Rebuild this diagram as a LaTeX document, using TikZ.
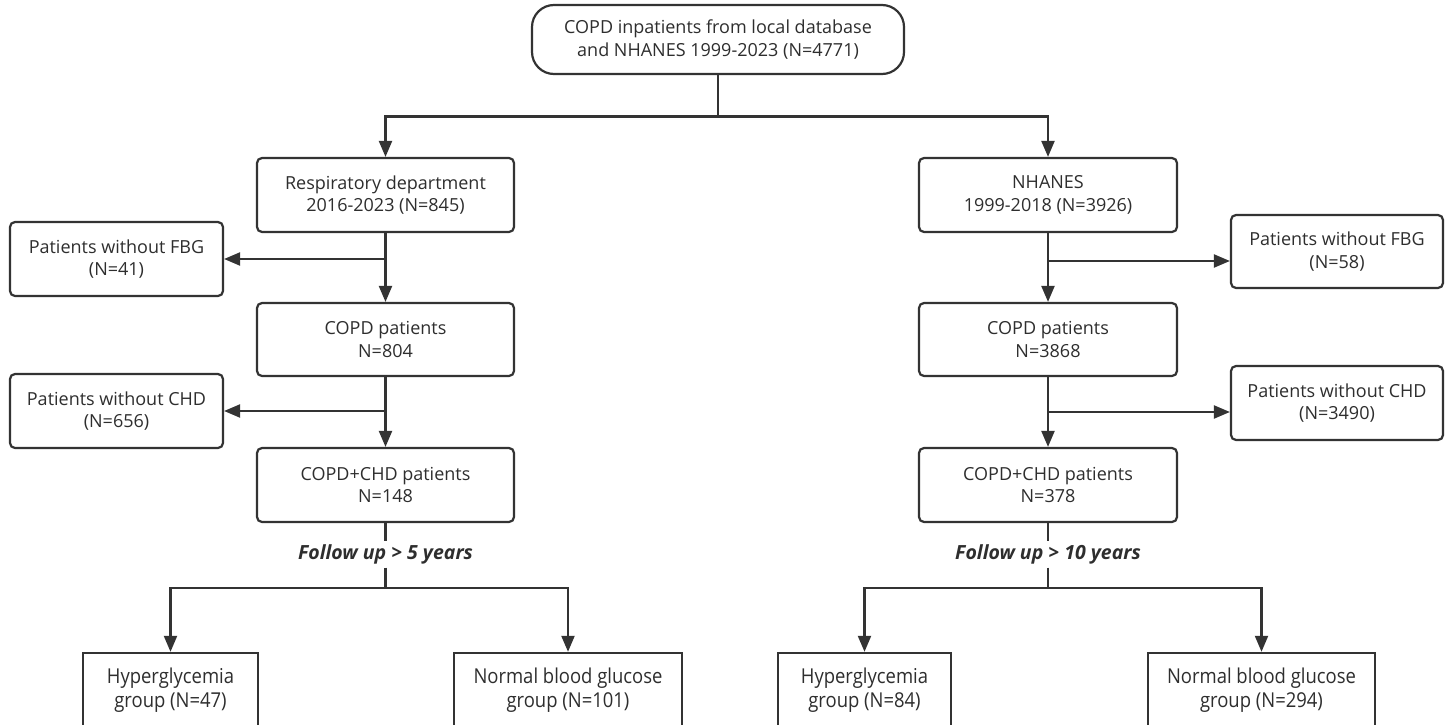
\documentclass[tikz,border=0pt]{standalone}
\usepackage{fontspec}
\setmainfont{Open Sans}
\newfontfamily\condfont[FakeStretch=0.9]{Open Sans}
\usetikzlibrary{arrows.meta}
\definecolor{ln}{HTML}{333333}
\definecolor{tx}{HTML}{2E2E2E}
\begin{document}
\begin{tikzpicture}[x=1pt,y=-1pt,
  box/.style={draw=ln, line width=2.2pt, rounded corners=5pt, minimum height=74pt,
    align=center, font=\fontsize{18}{22.5}\selectfont, text=tx, inner sep=0pt},
  gbox/.style={draw=ln, line width=2.4pt, minimum height=74pt,
    align=center, font=\condfont\fontsize{20.5}{23.5}\selectfont, text=tx, inner sep=0pt},
  conn/.style={draw=ln, line width=2.2pt},
  arr/.style={conn, -{Triangle[length=16pt,width=13pt]}},
  fu/.style={font=\fontsize{19.5}{20}\selectfont\bfseries\itshape, text=tx, inner sep=0pt, minimum height=26pt}
]
\useasboundingbox (0,0) rectangle (1448,725);
\begin{scope}
\clip (0,0) rectangle (1448,725);
\fill[white] (0,0) rectangle (1448,725);
% nodes
\node[box, rounded corners=22pt, minimum width=372pt, minimum height=69pt] (top) at (718,39.5)
  {COPD inpatients from local database\\and NHANES 1999-2023 (N=4771)};
\node[box, minimum width=257pt] (L1) at (385.5,195) {Respiratory department\\2016-2023 (N=845)};
\node[box, minimum width=258pt] (R1) at (1048,195) {NHANES\\1999-2018 (N=3926)};
\node[box, minimum width=213pt] (LF) at (116.5,259) {Patients without FBG\\(N=41)};
\node[box, minimum width=212pt, minimum height=73pt] (RF) at (1337,251.5) {Patients without FBG\\(N=58)};
\node[box, minimum width=257pt, minimum height=73pt] (L2) at (385.5,339.5) {COPD patients\\N=804};
\node[box, minimum width=258pt, minimum height=73pt] (R2) at (1048,339.5) {COPD patients\\N=3868};
\node[box, minimum width=213pt] (LC) at (116.5,411) {Patients without CHD\\(N=656)};
\node[box, minimum width=212pt] (RC) at (1337,403) {Patients without CHD\\(N=3490)};
\node[box, minimum width=257pt] (L3) at (385.5,485) {COPD+CHD patients\\N=148};
\node[box, minimum width=258pt] (R3) at (1048,485) {COPD+CHD patients\\N=378};
\node[fu] (FL) at (385.5,554.5) {Follow up > 5 years};
\node[fu] (FR) at (1048,554.5) {Follow up > 10 years};
\node[gbox, minimum width=175pt] (LH) at (170.5,690) {Hyperglycemia\\group (N=47)};
\node[gbox, minimum width=228pt] (LN) at (568,690) {Normal blood glucose\\group (N=101)};
\node[gbox, minimum width=173pt] (RH) at (864.5,690) {Hyperglycemia\\group (N=84)};
\node[gbox, minimum width=227pt] (RN) at (1261.5,690) {Normal blood glucose\\group (N=294)};
% junctions
\coordinate (split) at (718,116.5);
\coordinate (lfj) at (385.5,259);
\coordinate (rfj) at (1048,261);
\coordinate (lcj) at (385.5,411);
\coordinate (rcj) at (1048,412);
\coordinate (lgj) at (385.5,588);
\coordinate (rgj) at (1048,588);
% connectors
\draw[conn] (top.south) -- (split);
\draw[arr] (split) -| (L1.north);
\draw[arr] (split) -| (R1.north);
\draw[arr] (L1.south) -- (L2.north);
\draw[arr] (R1.south) -- (R2.north);
\draw[arr] (lfj) -- (LF.east);
\draw[arr] (rfj) -- (rfj -| RF.west);
\draw[arr] (L2.south) -- (L3.north);
\draw[arr] (R2.south) -- (R3.north);
\draw[arr] (lcj) -- (LC.east);
\draw[arr] (rcj) -- (rcj -| RC.west);
\draw[conn] (L3.south) -- (FL.north);
\draw[conn] (R3.south) -- (FR.north);
\draw[conn] (FL.south) -- (lgj);
\draw[conn] (FR.south) -- (rgj);
\draw[arr] (lgj) -| (LH.north);
\draw[arr] (lgj) -| (LN.north);
\draw[arr] (rgj) -| (RH.north);
\draw[arr] (rgj) -| (RN.north);
\end{scope}
\end{tikzpicture}
\end{document}
